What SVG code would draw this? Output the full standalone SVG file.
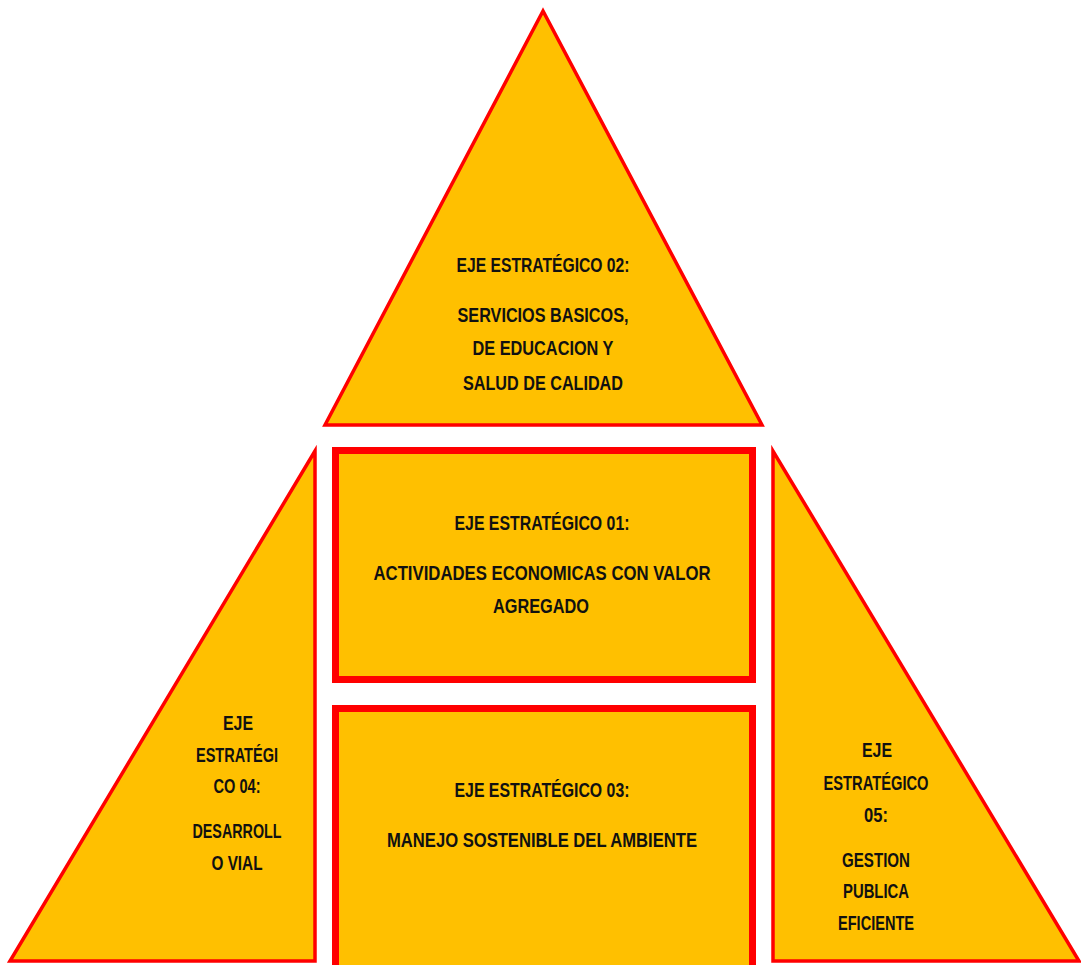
<svg xmlns="http://www.w3.org/2000/svg" width="1081" height="965" viewBox="0 0 1081 965">
<style>
.shape{fill:#FFC000;stroke:#FF0000;stroke-width:3.5;stroke-linejoin:miter}
.box{fill:#FFC000;stroke:#FF0000;stroke-width:7}
text{font-family:"Liberation Sans",Arial,sans-serif;font-weight:bold;font-size:21px;fill:#111;text-anchor:middle}
</style>
<rect width="1081" height="965" fill="#FFFFFF"/>
<g id="eje02">
<polygon class="shape" points="543,11 325,425 762,425"/>
<text x="543" y="272" textLength="173" lengthAdjust="spacingAndGlyphs">EJE ESTRATÉGICO 02:</text>
<text x="543" y="322" textLength="171" lengthAdjust="spacingAndGlyphs">SERVICIOS BASICOS,</text>
<text x="543" y="355" textLength="141" lengthAdjust="spacingAndGlyphs">DE EDUCACION Y</text>
<text x="543" y="390" textLength="160" lengthAdjust="spacingAndGlyphs">SALUD DE CALIDAD</text>
</g>
<g id="eje01">
<rect class="box" x="335.5" y="450.5" width="417" height="229"/>
<text x="542" y="530" textLength="175" lengthAdjust="spacingAndGlyphs">EJE ESTRATÉGICO 01:</text>
<text x="542" y="580" textLength="337" lengthAdjust="spacingAndGlyphs">ACTIVIDADES ECONOMICAS CON VALOR</text>
<text x="541" y="613" textLength="96" lengthAdjust="spacingAndGlyphs">AGREGADO</text>
</g>
<g id="eje03">
<rect class="box" x="335.5" y="708.5" width="417" height="270"/>
<text x="542" y="797" textLength="175" lengthAdjust="spacingAndGlyphs">EJE ESTRATÉGICO 03:</text>
<text x="542" y="847" textLength="310" lengthAdjust="spacingAndGlyphs">MANEJO SOSTENIBLE DEL AMBIENTE</text>
</g>
<g id="eje04">
<polygon class="shape" points="315,451 10,961 315,961"/>
<text x="238" y="730" textLength="30" lengthAdjust="spacingAndGlyphs">EJE</text>
<text x="237" y="762" textLength="82" lengthAdjust="spacingAndGlyphs">ESTRATÉGI</text>
<text x="237" y="793" textLength="47" lengthAdjust="spacingAndGlyphs">CO 04:</text>
<text x="237" y="838" textLength="89" lengthAdjust="spacingAndGlyphs">DESARROLL</text>
<text x="237" y="870" textLength="51" lengthAdjust="spacingAndGlyphs">O VIAL</text>
</g>
<g id="eje05">
<polygon class="shape" points="773,451 773,961 1079,961"/>
<text x="877" y="757" textLength="30" lengthAdjust="spacingAndGlyphs">EJE</text>
<text x="876" y="790" textLength="105" lengthAdjust="spacingAndGlyphs">ESTRATÉGICO</text>
<text x="876" y="822" textLength="24" lengthAdjust="spacingAndGlyphs">05:</text>
<text x="876" y="867" textLength="68" lengthAdjust="spacingAndGlyphs">GESTION</text>
<text x="876" y="898" textLength="66" lengthAdjust="spacingAndGlyphs">PUBLICA</text>
<text x="876" y="930" textLength="76" lengthAdjust="spacingAndGlyphs">EFICIENTE</text>
</g>
<g id="connectors"/>
</svg>
